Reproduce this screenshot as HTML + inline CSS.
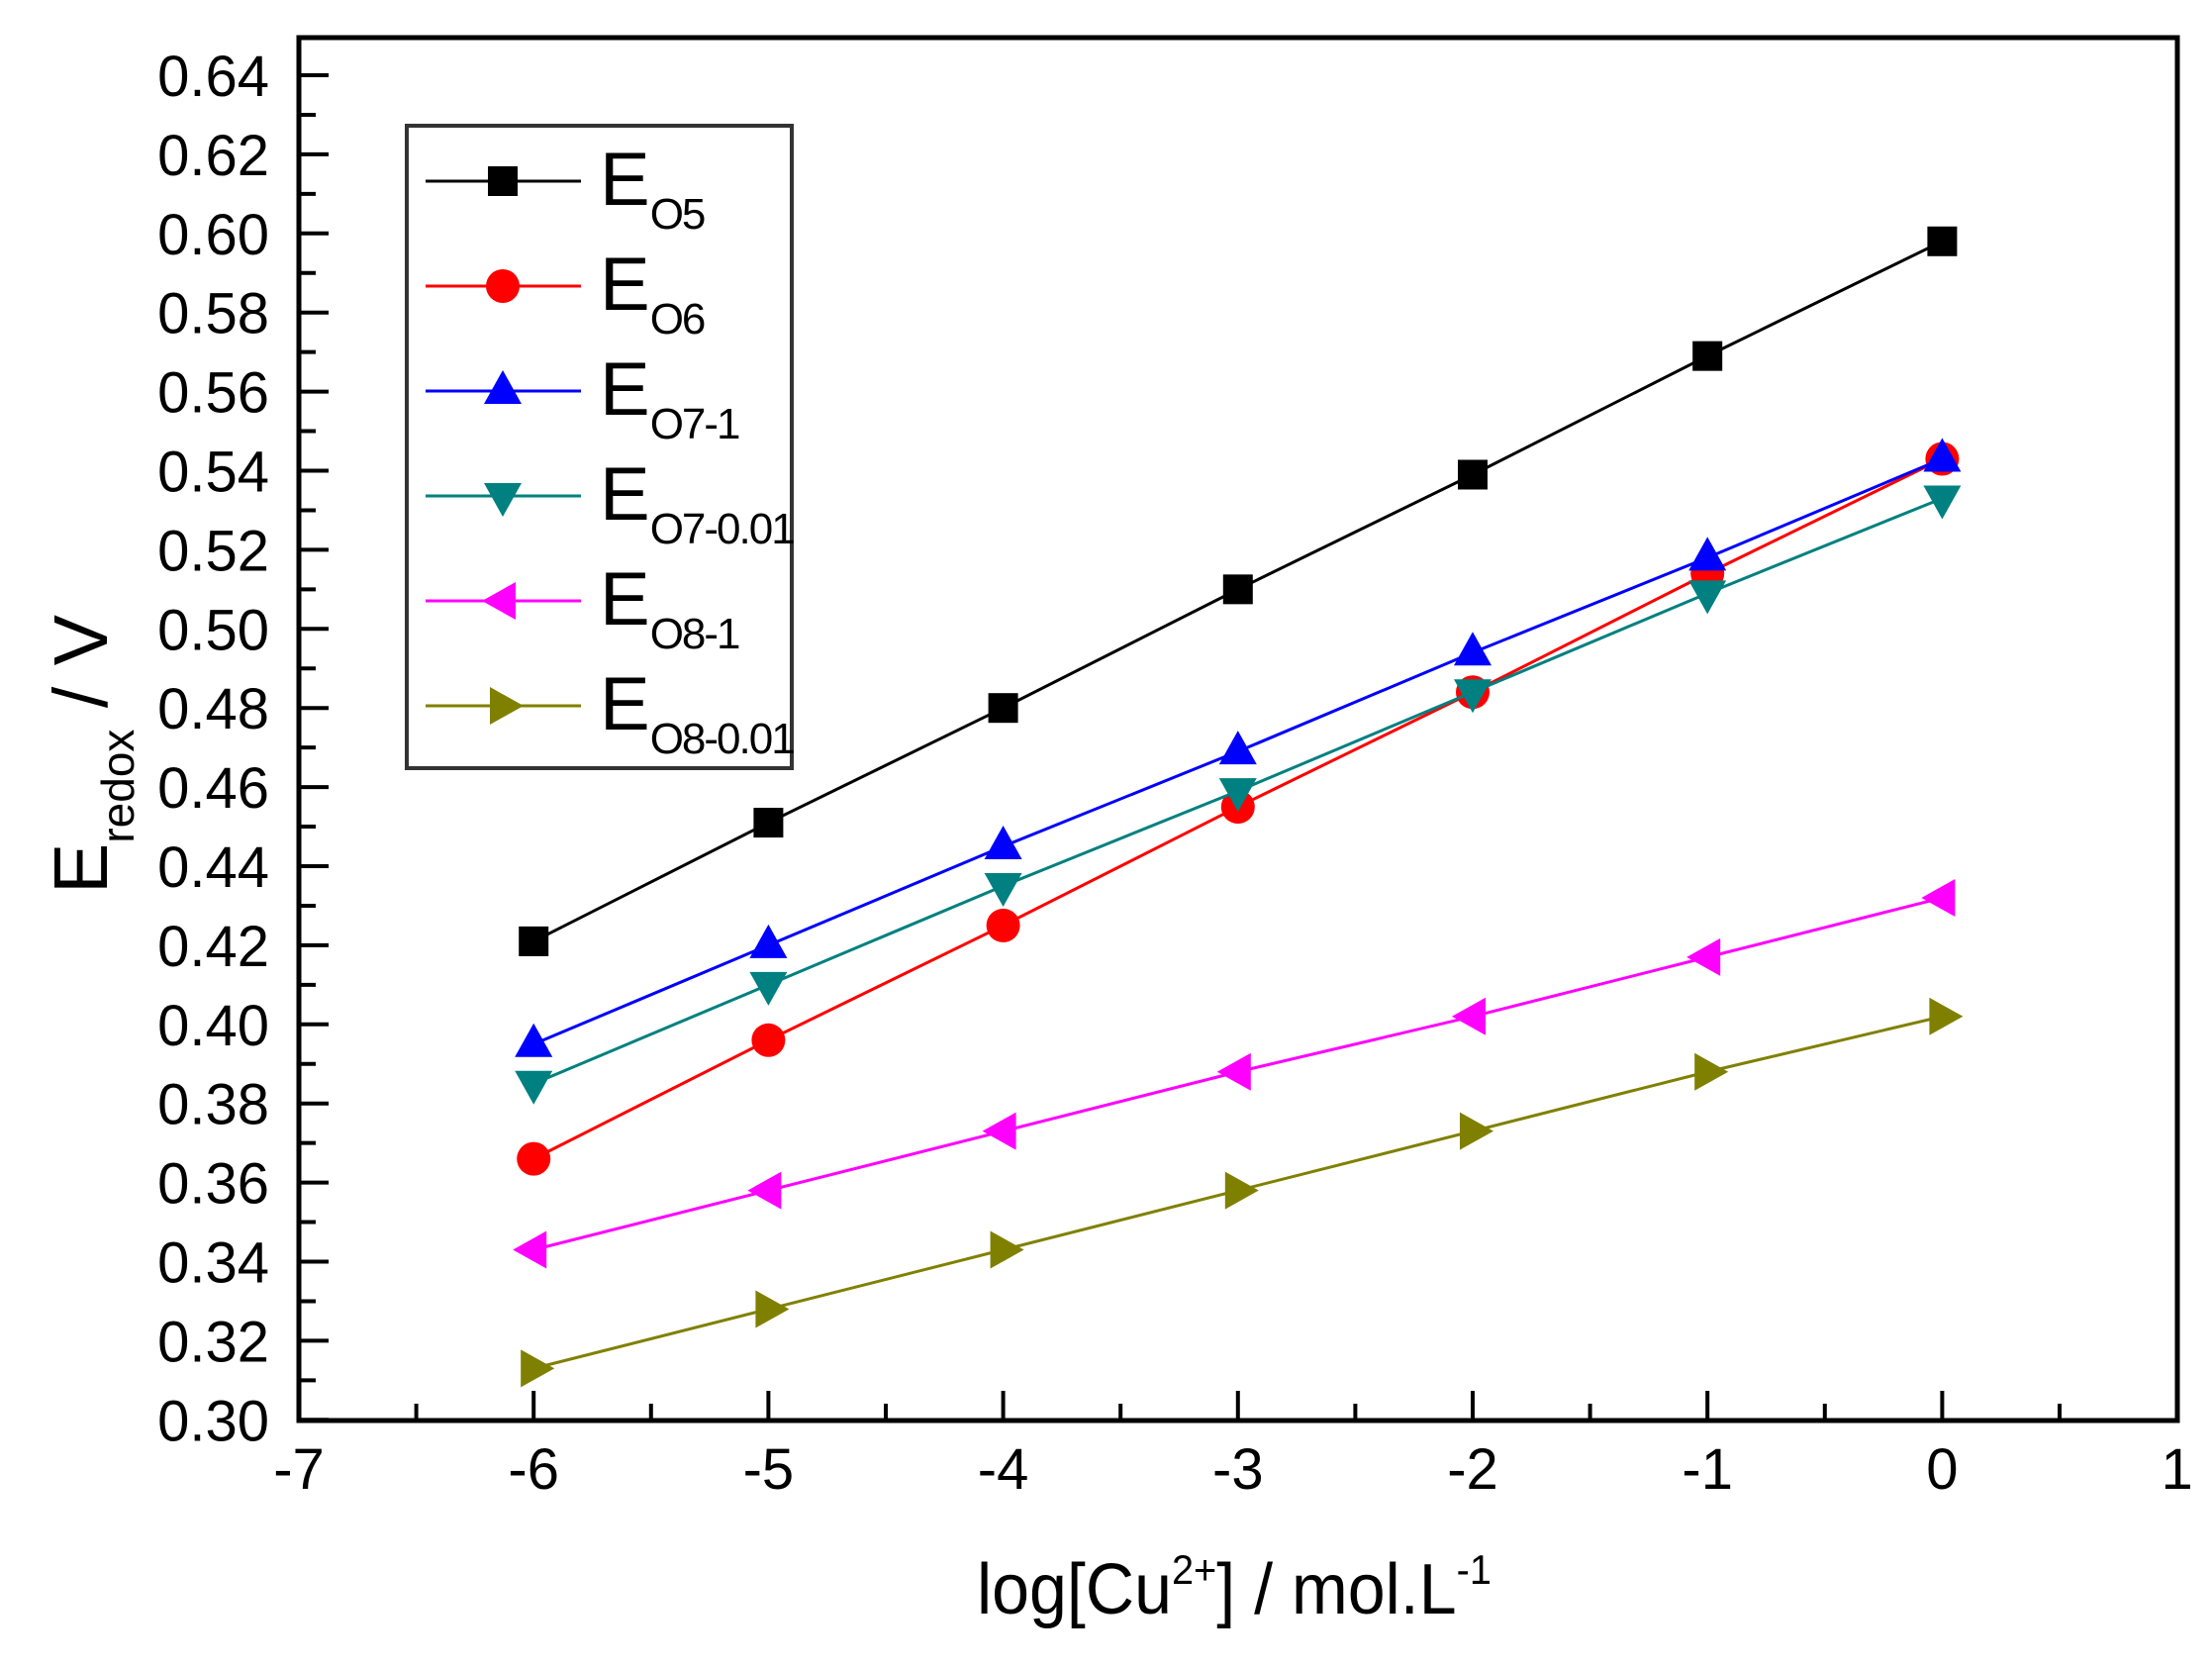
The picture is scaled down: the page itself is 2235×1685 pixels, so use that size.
<!DOCTYPE html>
<html><head><meta charset="utf-8"><style>
html,body{margin:0;padding:0;background:#fff;}
svg{display:block;font-family:"Liberation Sans",Arial,sans-serif;}
</style></head><body>
<svg width="2235" height="1685" viewBox="0 0 2235 1685" xmlns="http://www.w3.org/2000/svg">
<g id="g"></g>
</svg>
<script>
(function(){
const NS="http://www.w3.org/2000/svg";
const g=document.getElementById('g');
function el(t,a,txt){const e=document.createElementNS(NS,t);for(const k in a)e.setAttribute(k,a[k]);if(txt!==undefined)e.textContent=txt;g.appendChild(e);return e;}
const L=302,R=2200,T=38,B=1435;
const X=v=>L+(v+7)*237.2;
const Y=v=>76+(0.64-v)*3995;
for(let v=-7;v<=1.001;v+=0.5){const x=X(v);const maj=Math.abs(v-Math.round(v))<1e-6;
 el('line',{x1:x,y1:B,x2:x,y2:B-(maj?30:17),stroke:'#000','stroke-width':4});
 if(maj)el('text',{x:x,y:1504,'font-size':58,'text-anchor':'middle'},String(Math.round(v)));}
for(let i=0;i<=17;i++){const v=0.30+i*0.02;const y=Y(v);
 el('line',{x1:L,y1:y,x2:L+30,y2:y,stroke:'#000','stroke-width':4});
 el('text',{x:272,y:y+21,'font-size':58,'text-anchor':'end'},v.toFixed(2));
 if(i<17){const ym=Y(v+0.01);el('line',{x1:L,y1:ym,x2:L+17,y2:ym,stroke:'#000','stroke-width':4});}}
el('rect',{x:L,y:T,width:R-L,height:B-T,fill:'none',stroke:'#000','stroke-width':5});
const xs=[-6,-5,-4,-3,-2,-1,0];
const S=[
 {c:'#000',m:'sq',d:[0.421,0.451,0.480,0.510,0.539,0.569,0.598],n:'O5'},
 {c:'#ff0000',m:'ci',d:[0.366,0.396,0.425,0.455,0.484,0.514,0.543],n:'O6'},
 {c:'#0000ff',m:'up',d:[0.395,0.420,0.445,0.469,0.494,0.518,0.543],n:'O7-1'},
 {c:'#008080',m:'dn',d:[0.385,0.410,0.435,0.459,0.484,0.509,0.533],n:'O7-0.01'},
 {c:'#ff00ff',m:'lf',d:[0.343,0.358,0.373,0.388,0.402,0.417,0.432],n:'O8-1'},
 {c:'#808000',m:'rt',d:[0.313,0.328,0.343,0.358,0.373,0.388,0.402],n:'O8-0.01'}];
function mk(m,x,y,c){
 if(m==='sq')el('rect',{x:x-15,y:y-15,width:30,height:30,fill:c});
 else if(m==='ci')el('circle',{cx:x,cy:y,r:17,fill:c});
 else{let p;
  if(m==='up')p=[[x,y-21],[x+19,y+13],[x-19,y+13]];
  if(m==='dn')p=[[x,y+21],[x+19,y-13],[x-19,y-13]];
  if(m==='lf')p=[[x-21,y],[x+13,y-19],[x+13,y+19]];
  if(m==='rt')p=[[x+21,y],[x-13,y-19],[x-13,y+19]];
  el('polygon',{points:p.map(q=>q.join(',')).join(' '),fill:c});}
}
S.forEach(s=>{el('polyline',{points:xs.map((v,i)=>X(v)+','+Y(s.d[i])).join(' '),fill:'none',stroke:s.c,'stroke-width':3});
 xs.forEach((v,i)=>mk(s.m,X(v),Y(s.d[i]),s.c));});
el('rect',{x:411,y:127,width:389,height:649,fill:'#fff',stroke:'#333','stroke-width':4});
S.forEach((s,i)=>{const y=183+i*106;
 el('line',{x1:430,y1:y,x2:587,y2:y,stroke:s.c,'stroke-width':3});
 mk(s.m,508,y,s.c);
 const t=el('text',{x:606,y:y+24,'font-size':76});
 t.textContent='E';
 const ts=document.createElementNS(NS,'tspan');ts.setAttribute('font-size',44);ts.setAttribute('dy',24);ts.setAttribute('letter-spacing',-2);ts.textContent=s.n;t.appendChild(ts);});
const yl=el('text',{transform:'translate(108,903) rotate(-90)','font-size':77});
yl.textContent='E';
let t1=document.createElementNS(NS,'tspan');t1.setAttribute('font-size',46);t1.setAttribute('dy',27);t1.textContent='redox';yl.appendChild(t1);
let t2=document.createElementNS(NS,'tspan');t2.setAttribute('dy',-27);t2.textContent=' / V';yl.appendChild(t2);
const xl=el('text',{x:1247,y:1630,'font-size':72,'text-anchor':'middle',textLength:520,lengthAdjust:'spacingAndGlyphs'});
xl.textContent='log[Cu';
let a=document.createElementNS(NS,'tspan');a.setAttribute('font-size',42);a.setAttribute('dy',-30);a.textContent='2+';xl.appendChild(a);
let b=document.createElementNS(NS,'tspan');b.setAttribute('dy',30);b.textContent='] / mol.L';xl.appendChild(b);
let c=document.createElementNS(NS,'tspan');c.setAttribute('font-size',42);c.setAttribute('dy',-30);c.textContent='-1';xl.appendChild(c);
})();
</script>
</body></html>
